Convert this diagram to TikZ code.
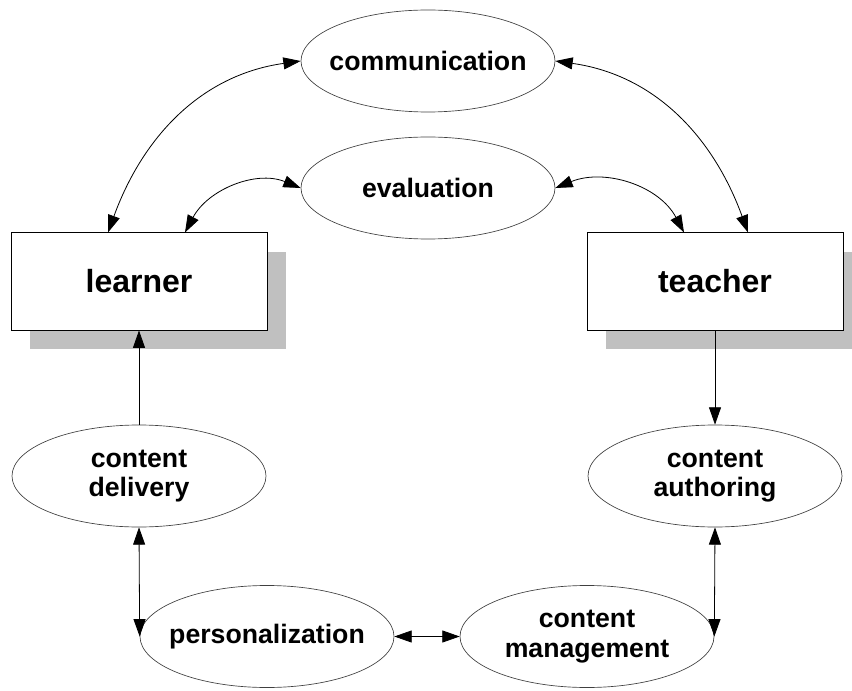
\documentclass[tikz,border=0pt]{standalone}
\usepackage{fontspec}
\setmainfont{Liberation Sans}
\usetikzlibrary{arrows.meta,calc,shapes.geometric,shadows}
\definecolor{shadowgray}{HTML}{C0C0C0}
\definecolor{rimgray}{HTML}{404040}

\tikzset{
  actor/.style={draw, fill=white, line width=0.75pt, minimum width=192pt, minimum height=72.75pt, inner sep=0pt,
    font=\fontsize{24}{26}\selectfont\bfseries,
    drop shadow={shadow xshift=14.25pt, shadow yshift=-14.25pt, fill=shadowgray, opacity=1}},
  task/.style={draw=rimgray, ellipse, line width=0.5pt, minimum width=190.5pt, minimum height=76.5pt,
    inner xsep=-10pt, inner ysep=0pt, align=center, font=\fontsize{20}{22}\selectfont\bfseries},
  tip/.tip={Triangle[length=13pt,width=9pt]},
  link/.style={line width=0.6pt, -tip},
  twoway/.style={line width=0.6pt, tip-tip}
}

\begin{document}
\begin{tikzpicture}[x=0.75pt,y=-0.75pt]
\useasboundingbox (0,0) rectangle (852,691);

\node [task] (comm) at (428,61) {communication};
\node [task] (eval) at (428,188) {evaluation};
\node [actor] (learner) at (139,281.5) {learner};
\node [actor] (teacher) at (715,281.5) {teacher};
\node [task] (cdel) at (139,476) {content\\delivery};
\node [task] (cauth) at (715,476) {content\\authoring};
\node [task] (pers) at (267,636.5) {personalization};
\node [task] (cman) at (587,636.5) {content\\management};

% upper exchanges
\draw [twoway] ($(learner.north)+(-31,0)$) to [out=70,in=188] (comm.west);
\draw [twoway] ($(teacher.north)+(33,0)$) to [out=110,in=-8] (comm.east);
\draw [twoway] ($(learner.north)+(46,0)$) to [out=62,in=158] (eval.west);
\draw [twoway] ($(teacher.north)+(-31,0)$) to [out=118,in=22] (eval.east);

% content flow
\draw [link] (cdel.north) -- (learner.south);
\draw [link] (teacher.south) -- (cauth.north);
\draw [twoway] (cdel.south) -- (pers.west);
\draw [twoway] (pers.east) -- (cman.west);
\draw [twoway] (cauth.south) -- (cman.east);
\end{tikzpicture}
\end{document}
